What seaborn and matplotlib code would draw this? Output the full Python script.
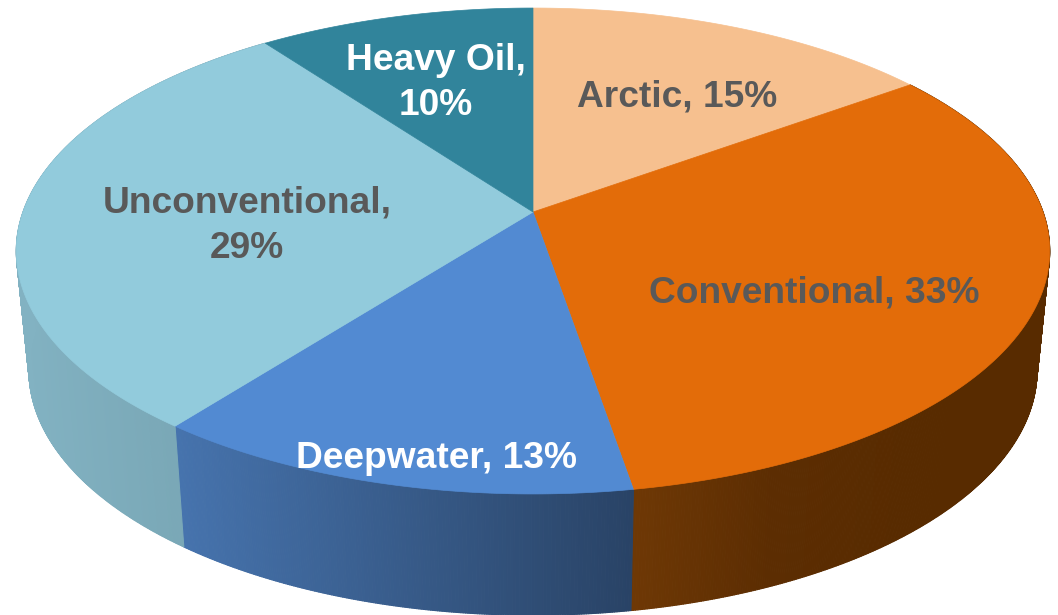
import numpy as np
import matplotlib
matplotlib.use("Agg")
import matplotlib.pyplot as plt
from matplotlib.collections import PolyCollection
import seaborn as sns

# ---- data ----
categories = ["Arctic", "Conventional", "Deepwater", "Unconventional", "Heavy Oil"]
shares = [15.0, 32.35, 13.15, 29.4, 10.1]
percent_labels = [15, 33, 13, 29, 10]
top_colors = ["#F6C08F", "#E36C09", "#528AD2", "#92CBDC", "#31849B"]
wall_stops = {
    "Conventional": ["#6E3805", "#5C2D02", "#582B00", "#582B00"],
    "Deepwater": ["#4673AD", "#294366"],
    "Unconventional": ["#82B2C2", "#75A2B0"],
}

# ---- geometry of the perspective view (pixels) ----
TILT = 0.1605
TOP = dict(hx=533.0, hy=212.0, rx=510.0, ry=236.7)
BOTTOM = dict(hx=533.0, hy=331.0, rx=497.5, ry=238.6)

LABELS = {
    "Arctic": (677, 97, "#595959", "{}, {}%"),
    "Conventional": (814, 293, "#595959", "{}, {}%"),
    "Deepwater": (437, 459, "white", "{}, {}%"),
    "Unconventional": (247, 226, "#595959", "{},\n{}%"),
    "Heavy Oil": (436, 83, "white", "{},\n{}%"),
}


def project(theta, disk):
    w = 1 + TILT * np.cos(theta)
    return disk["hx"] + disk["rx"] * np.sin(theta) / w, disk["hy"] - disk["ry"] * np.cos(theta) / w


sns.set_theme(style="white")
plt.rcParams["font.family"] = ["Liberation Sans", "DejaVu Sans"]

fig, ax = plt.subplots(figsize=(10.58, 6.15), dpi=100)
fig.patch.set_facecolor("white")
ax.set_position([0, 0, 1, 1])
ax.set_axis_off()

palette = sns.color_palette(top_colors)
edges = 2 * np.pi * np.cumsum([0] + shares) / np.sum(shares)

# side walls, as thin vertical strips shaded left to right
for name, a0, a1 in zip(categories, edges[:-1], edges[1:]):
    if name not in wall_stops:
        continue
    n = max(int((a1 - a0) / 0.004), 2)
    th = np.linspace(a0, a1, n + 1)
    tx, ty = project(th, TOP)
    bx, by = project(th, BOTTOM)
    polys = [
        [(tx[i], ty[i]), (tx[i + 1], ty[i + 1]), (bx[i + 1], by[i + 1]), (bx[i], by[i])]
        for i in range(n)
    ]
    cmap = sns.blend_palette(wall_stops[name], as_cmap=True)
    mid = (tx[:-1] + tx[1:]) / 2
    u = (mid - mid.min()) / (mid.max() - mid.min())
    cols = cmap(u)
    ax.add_collection(PolyCollection(polys, facecolors=cols, edgecolors=cols, linewidths=0.8, zorder=1))

# top face
for name, col, a0, a1 in zip(categories, palette, edges[:-1], edges[1:]):
    th = np.linspace(a0, a1, 240)
    x, y = project(th, TOP)
    ax.fill(np.r_[TOP["hx"], x], np.r_[TOP["hy"], y], color=col, lw=0.5, zorder=2)

# labels
for name, pct in zip(categories, percent_labels):
    px, py, col, fmt = LABELS[name]
    ax.text(px, py, fmt.format(name, pct), color=col, fontsize=26.7,
            fontweight="bold", ha="center", va="center", linespacing=1.38, zorder=3)

ax.set_xlim(0, 1058)
ax.set_ylim(615, 0)
fig.savefig("out.png", dpi=100, facecolor="white")
